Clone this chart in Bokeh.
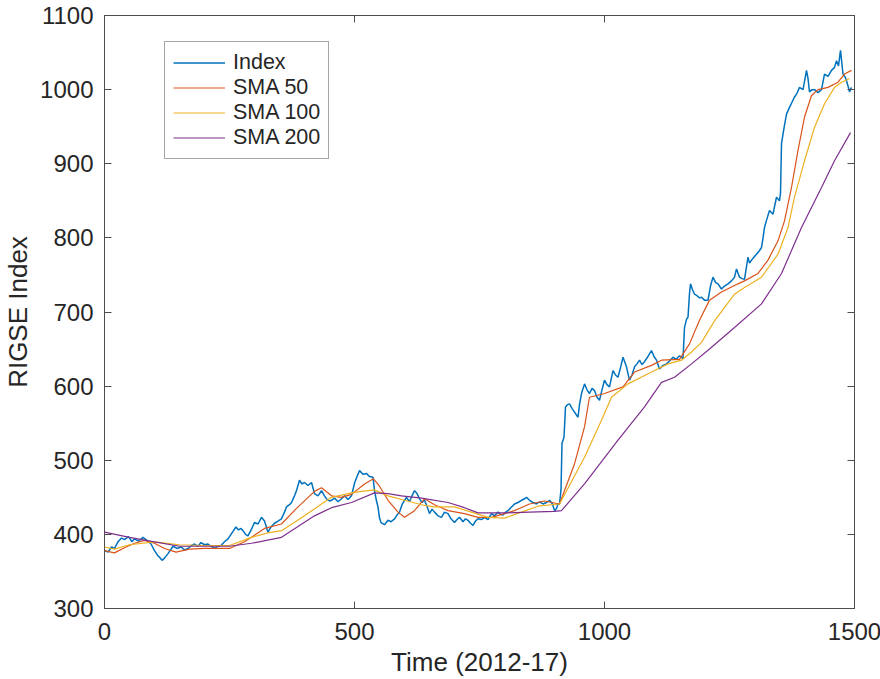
from bokeh.plotting import figure
from bokeh.models import LinearAxis, FixedTicker, Range1d, CustomJSTickFormatter
from bokeh.embed import file_html
from bokeh.resources import INLINE

# ---------------- data ----------------
index_t = [0, 7, 14, 20, 27, 34, 40, 48, 55, 60, 68, 77, 85, 93, 100, 106, 110, 115, 120, 127,
           137, 145, 153, 160, 167, 174, 180, 187, 193, 200, 207, 213, 220, 227, 233, 240, 247, 253,
           258, 263, 268, 273, 277, 282, 287, 294, 300, 307, 314, 320, 327, 333, 340, 347, 354, 360,
           364, 370, 374, 380, 384, 390, 395, 400, 407, 414, 420, 427, 434, 440, 444, 450, 454, 460,
           467, 474, 480, 487, 494, 500, 505, 510, 517, 524, 530, 537, 540, 544, 547, 550, 553, 560,
           567, 573, 580, 585, 590, 595, 600, 604, 610, 615, 620, 625, 630, 635, 640, 645, 650, 655,
           660, 667, 674, 680, 687, 693, 700, 705, 710, 717, 722, 727, 732, 737, 742, 747, 754, 760,
           767, 774, 780, 787, 792, 797, 802, 807, 814, 820, 827, 834, 840, 844, 850, 857, 864, 870,
           877, 884, 890, 896, 900, 904, 907, 910, 913, 915, 919, 922, 926, 930, 935, 940, 947, 950,
           954, 960, 965, 970, 975, 980, 985, 990, 995, 1000, 1005, 1010, 1017, 1022, 1027, 1032,
           1037, 1044, 1050, 1055, 1060, 1065, 1070, 1075, 1080, 1087, 1094, 1099, 1104, 1110, 1117,
           1124, 1130, 1137, 1143, 1150, 1157, 1160, 1164, 1167, 1170, 1172, 1176, 1180, 1185, 1190,
           1194, 1200, 1207, 1212, 1217, 1222, 1227, 1234, 1240, 1247, 1254, 1260, 1264, 1270, 1275,
           1280, 1287, 1290, 1294, 1300, 1304, 1310, 1314, 1317, 1320, 1325, 1330, 1337, 1344, 1350,
           1352, 1354, 1357, 1360, 1364, 1370, 1375, 1380, 1385, 1390, 1397, 1404, 1407, 1410, 1415,
           1420, 1427, 1434, 1440, 1447, 1454, 1460, 1464, 1468, 1472, 1477, 1482, 1484, 1487, 1490,
           1494]
index_v = [378, 376, 383, 381, 390, 395, 393, 397, 390, 394, 391, 396, 392, 387, 378, 372, 369, 365,
           368, 374, 384, 381, 383, 379, 381, 385, 387, 384, 389, 386, 387, 384, 381, 384, 385, 390,
           394, 400, 405, 410, 406, 408, 405, 400, 398, 407, 416, 414, 423, 418, 403, 410, 415, 418,
           421, 430, 437, 440, 443, 452, 459, 473, 468, 470, 466, 470, 455, 452, 459, 452, 448, 445,
           446, 449, 444, 448, 452, 447, 452, 469, 478, 486, 481, 482, 478, 477, 459, 445, 437, 422,
           416, 413, 419, 417, 421, 426, 430, 440, 446, 450, 444, 452, 459, 455, 448, 443, 446, 438,
           428, 434, 430, 425, 423, 430, 428, 421, 416, 420, 423, 417, 421, 419, 415, 412, 418, 421,
           420, 423, 420, 428, 425, 430, 427, 426, 430, 432, 437, 441, 443, 446, 448, 450, 446, 443,
           441, 444, 441, 443, 446, 441, 432, 435, 441, 441, 460, 523, 531, 572, 575, 576, 570, 565,
           558, 575, 590, 603, 595, 590, 597, 594, 585, 581, 595, 608, 602, 599, 621, 615, 612, 625,
           639, 626, 608, 615, 626, 630, 635, 629, 633, 640, 648, 640, 635, 623, 628, 630, 634, 639,
           636, 641, 637, 679, 690, 693, 725, 738, 730, 724, 722, 719, 720, 716, 716, 735, 747, 740,
           738, 731, 735, 738, 742, 747, 758, 747, 745, 744, 774, 766, 770, 775, 778, 783, 787, 800,
           814, 826, 837, 832, 855, 850, 860, 927, 940, 952, 967, 976, 983, 990, 995, 1003, 1000,
           1026, 1015, 997, 1000, 1000, 996, 1000, 1021, 1018, 1026, 1030, 1039, 1032, 1053, 1021,
           1016, 1012, 1005, 997, 1003]

sma50_t = [0, 20, 40, 60, 80, 100, 120, 143, 170, 200, 250, 280, 320, 354, 384, 420, 434, 454, 474,
           494, 520, 538, 550, 567, 587, 600, 620, 640, 660, 687, 720, 747, 774, 800, 820, 850, 880,
           910, 940, 960, 970, 1000, 1037, 1060, 1094, 1114, 1150, 1170, 1190, 1210, 1234, 1267,
           1280, 1307, 1327, 1347, 1360, 1374, 1387, 1400, 1414, 1427, 1447, 1467, 1480, 1494]
sma50_v = [378, 375, 382, 388, 392, 388, 381, 376, 380, 381, 381, 390, 408, 414, 435, 458, 463, 452,
           450, 454, 468, 475, 465, 446, 430, 423, 432, 448, 440, 432, 428, 423, 423, 428, 432, 441,
           445, 441, 495, 545, 585, 590, 599, 619, 628, 635, 636, 657, 689, 716, 727, 738, 742, 752,
           770, 796, 823, 868, 918, 963, 992, 1000, 1003, 1010, 1021, 1026]

sma100_t = [0, 20, 50, 100, 150, 200, 250, 294, 327, 354, 400, 434, 454, 494, 514, 540, 567, 600,
            640, 660, 700, 734, 767, 800, 834, 867, 910, 960, 994, 1014, 1047, 1094, 1127, 1154,
            1174, 1194, 1220, 1260, 1280, 1314, 1347, 1367, 1380, 1400, 1420, 1440, 1460, 1474, 1490]
sma100_v = [383, 380, 386, 390, 386, 385, 385, 396, 402, 405, 425, 441, 450, 456, 458, 460, 452, 446,
            439, 437, 437, 430, 423, 422, 430, 438, 441, 504, 554, 585, 603, 619, 630, 635, 646, 659,
            688, 724, 733, 747, 778, 814, 855, 904, 949, 981, 1003, 1010, 1015]

sma200_t = [0, 50, 100, 150, 200, 250, 294, 354, 420, 454, 494, 540, 567, 594, 634, 687, 720, 747,
            800, 850, 900, 914, 960, 1027, 1080, 1114, 1140, 1174, 1210, 1260, 1314, 1354, 1394,
            1434, 1460, 1492]
sma200_v = [403, 396, 390, 384, 384, 384, 388, 396, 425, 436, 443, 456, 455, 452, 449, 443, 436, 429,
            429, 430, 431, 432, 468, 527, 572, 605, 612, 630, 650, 679, 711, 752, 814, 868, 904, 942]

x_ticks = [0, 500, 1000, 1500]
y_ticks = [300, 400, 500, 600, 700, 800, 900, 1000, 1100]

# ---------------- figure ----------------
FONT = "Liberation Sans"
TXT = "#262626"
FRAME = "#4d4d4d"

p = figure(frame_width=750, frame_height=593,
           min_border_left=103, min_border_right=27, min_border_top=15, min_border_bottom=71,
           x_range=Range1d(0, 1500), y_range=Range1d(300, 1100),
           output_backend="svg", toolbar_location=None,
           background_fill_color="white", border_fill_color="white")

p.line(index_t, index_v, color="#0072BD", line_width=1.5, legend_label="Index")
p.line(sma50_t, sma50_v, color="#D95319", line_width=1.2, legend_label="SMA 50")
p.line(sma100_t, sma100_v, color="#EDB120", line_width=1.2, legend_label="SMA 100")
p.line(sma200_t, sma200_v, color="#7E2F8E", line_width=1.2, legend_label="SMA 200")

p.grid.visible = False
p.outline_line_color = FRAME
p.outline_line_width = 1
p.outline_line_alpha = 1

for ax in (p.xaxis[0], p.yaxis[0]):
    ax.axis_line_color = None
    ax.major_tick_line_color = FRAME
    ax.major_tick_in = 7
    ax.major_tick_out = 0
    ax.minor_tick_line_color = None
    ax.major_label_text_font = FONT
    ax.major_label_text_font_size = "24px"
    ax.major_label_text_color = TXT
    ax.axis_label_text_font = FONT
    ax.axis_label_text_font_size = "26px"
    ax.axis_label_text_font_style = "normal"
    ax.axis_label_text_color = TXT

p.xaxis[0].ticker = FixedTicker(ticks=x_ticks)
p.yaxis[0].ticker = FixedTicker(ticks=y_ticks)
p.xaxis[0].axis_label = "Time (2012-17)"
p.yaxis[0].axis_label = "RIGSE Index"
p.xaxis[0].major_label_standoff = 14
p.yaxis[0].major_label_standoff = 11
p.xaxis[0].axis_label_standoff = 4
p.yaxis[0].axis_label_standoff = 4

# mirrored ticks (box on)
blank = CustomJSTickFormatter(code="return ''")
right = LinearAxis(ticker=FixedTicker(ticks=y_ticks), formatter=blank)
top = LinearAxis(ticker=FixedTicker(ticks=x_ticks), formatter=blank)
for ax in (right, top):
    ax.axis_line_color = None
    ax.major_tick_line_color = FRAME
    ax.major_tick_in = 7
    ax.major_tick_out = 0
    ax.minor_tick_line_color = None
    ax.major_label_standoff = 0
p.add_layout(right, "right")
p.add_layout(top, "above")

lg = p.legend[0]
lg.location = (60, 449)
lg.border_line_color = FRAME
lg.border_line_width = 1
lg.background_fill_color = "white"
lg.background_fill_alpha = 1
lg.label_text_font = FONT
lg.label_text_font_size = "21.5px"
lg.label_text_color = TXT
lg.glyph_width = 52
lg.glyph_height = 25
lg.label_height = 25
lg.label_standoff = 8
lg.spacing = 0
lg.padding = 8
lg.margin = 0

open("out.html", "w").write(file_html(p, INLINE))
